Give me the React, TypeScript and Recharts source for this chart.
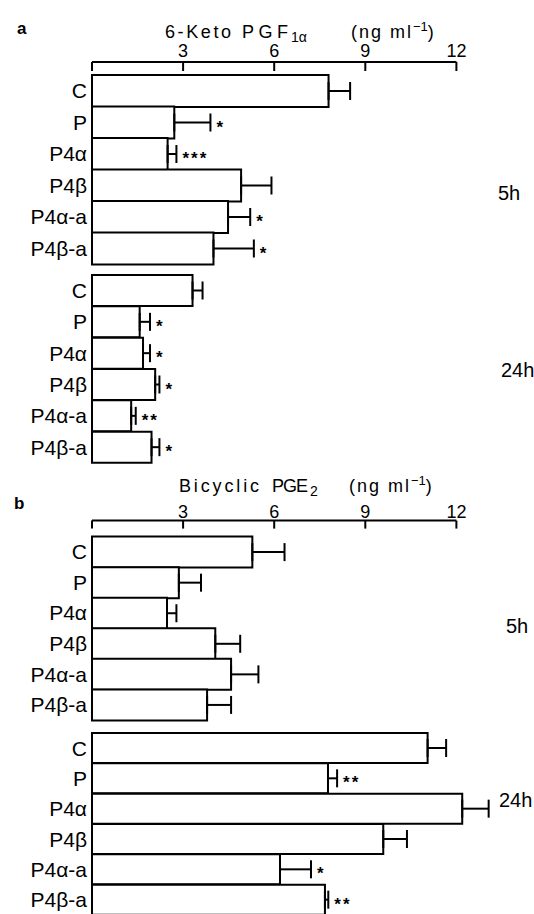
import React from 'react';
import { BarChart, Bar, XAxis, YAxis, ErrorBar } from 'recharts';

const FONT = '"Liberation Sans", Arial, sans-serif';

const categories = ['C', 'P', 'P4α', 'P4β', 'P4α-a', 'P4β-a'];
const axisTicks = [0, 3, 6, 9, 12];

// a: 6-Keto PGF1α (ng/ml)
const ketoMean5h = [7.79, 2.71, 2.49, 4.91, 4.48, 4.0];
const ketoErr5h = [0.71, 1.19, 0.29, 1.0, 0.73, 1.33];
const ketoStars5h = ['', '*', '***', '', '*', '*'];
const ketoMean24h = [3.31, 1.57, 1.68, 2.08, 1.29, 1.96];
const ketoErr24h = [0.33, 0.34, 0.23, 0.14, 0.15, 0.26];
const ketoStars24h = ['', '*', '*', '*', '**', '*'];

// b: Bicyclic PGE2 (ng/ml)
const pgeMean5h = [5.28, 2.86, 2.47, 4.06, 4.58, 3.79];
const pgeErr5h = [1.06, 0.73, 0.31, 0.82, 0.9, 0.79];
const pgeStars5h = ['', '', '', '', '', ''];
const pgeMean24h = [11.05, 7.77, 12.19, 9.59, 6.19, 7.67];
const pgeErr24h = [0.61, 0.3, 0.87, 0.78, 1.02, 0.11];
const pgeStars24h = ['', '**', '', '', '*', '**'];

type Row = { name: string; mean: number; err: number; range: [number, number]; stars: string };

const buildRows = (means: number[], errs: number[], stars: string[]): Row[] =>
  categories.map((name, i) => ({ name, mean: means[i], err: errs[i], range: [0, errs[i]], stars: stars[i] }));

const makeAxisTick = (gap: number, len: number) => (props: any) => {
  const { x, y, payload } = props;
  return (
    <g>
      <line x1={x} x2={x} y1={y} y2={y + len} stroke="#000" strokeWidth={2} />
      {payload.value !== 0 && (
        <text x={x} y={y - gap} textAnchor="middle" fontSize={18} fontFamily={FONT} fill="#000">
          {payload.value}
        </text>
      )}
    </g>
  );
};

const StarShape = (props: any) => {
  const { x, y, width, height, payload } = props;
  if (!payload || !payload.stars) return <g />;
  return (
    <text
      x={x + width + 6}
      y={y + height / 2 + 10}
      fontSize={17}
      fontWeight="bold"
      letterSpacing={2}
      fontFamily={FONT}
      fill="#000"
    >
      {payload.stars}
    </text>
  );
};

type GroupProps = {
  rows: Row[];
  top: number;
  height: number;
  margin: { top: number; right: number; bottom: number; left: number };
  domainMax: number;
  axis: boolean;
  axisHeight?: number;
  padTop?: number;
  tickGap?: number;
  tickLen?: number;
};

function Group({ rows, top, height, margin, domainMax, axis, axisHeight = 30, padTop = 0, tickGap = 5, tickLen = 9 }: GroupProps) {
  return (
    <div style={{ position: 'absolute', left: 0, top }}>
      <BarChart layout="vertical" width={534} height={height} data={rows} margin={margin} barCategoryGap={0}>
        <XAxis
          type="number"
          domain={[0, domainMax]}
          ticks={axisTicks}
          hide={!axis}
          orientation="top"
          height={axisHeight}
          axisLine={{ stroke: '#000', strokeWidth: 2 }}
          tickLine={false}
          tickSize={0}
          tickMargin={0}
          interval={0}
          tick={makeAxisTick(tickGap, tickLen)}
        />
        <YAxis
          type="category"
          dataKey="name"
          width={92}
          axisLine={false}
          tickLine={false}
          tickSize={0}
          tickMargin={5}
          interval={0}
          padding={{ top: padTop, bottom: 0 }}
          tick={{ fontSize: 21, fill: '#000', fontFamily: FONT }}
        />
        <Bar dataKey="mean" stackId="s" fill="#fff" stroke="#000" strokeWidth={2} isAnimationActive={false}>
          <ErrorBar dataKey="range" direction="x" width={9} stroke="#000" strokeWidth={2} isAnimationActive={false} />
        </Bar>
        <Bar dataKey="err" stackId="s" fill="none" isAnimationActive={false} shape={StarShape} />
      </BarChart>
    </div>
  );
}

export default function App() {
  const txt = { fontFamily: FONT, fill: '#000' } as const;
  return (
    <div style={{ position: 'absolute', left: 0, top: 0, width: 534, height: 914, overflow: 'hidden', background: '#fff' }}>
      <Group
        rows={buildRows(ketoMean5h, ketoErr5h, ketoStars5h)}
        top={0}
        height={266}
        margin={{ top: 0, right: 77.6, bottom: 2, left: 0 }}
        domainMax={12}
        axis
        axisHeight={62}
        padTop={13}
        tickGap={5}
        tickLen={9}
      />
      <Group
        rows={buildRows(ketoMean24h, ketoErr24h, ketoStars24h)}
        top={273}
        height={192}
        margin={{ top: 2, right: 16.8, bottom: 2, left: 0 }}
        domainMax={14}
        axis={false}
      />
      <Group
        rows={buildRows(pgeMean5h, pgeErr5h, pgeStars5h)}
        top={460}
        height={262}
        margin={{ top: 0, right: 77.6, bottom: 2, left: 0 }}
        domainMax={12}
        axis
        axisHeight={60.6}
        padTop={16}
        tickGap={3}
        tickLen={8}
      />
      <Group
        rows={buildRows(pgeMean24h, pgeErr24h, pgeStars24h)}
        top={731}
        height={186}
        margin={{ top: 2, right: 16.8, bottom: 2, left: 0 }}
        domainMax={14}
        axis={false}
      />
      <svg width={534} height={914} style={{ position: 'absolute', left: 0, top: 0, pointerEvents: 'none' }}>
        <text x={17} y={34} fontSize={17} fontWeight="bold" {...txt}>a</text>
        <text x={165} y={37.5} fontSize={18} textLength={66} {...txt}>6-Keto</text>
        <text x={242} y={37.5} fontSize={18} textLength={46} {...txt}>PGF</text>
        <text x={291} y={42} fontSize={14} {...txt}>1α</text>
        <text x={351} y={37.5} fontSize={18} letterSpacing={2} {...txt}>
          (ng ml<tspan dy={-7} fontSize={13} letterSpacing={0}>−1</tspan>
          <tspan dy={7}>)</tspan>
        </text>
        <text x={498} y={200} fontSize={20} {...txt}>5h</text>
        <text x={501} y={377} fontSize={20} {...txt}>24h</text>

        <text x={14} y={509} fontSize={17} fontWeight="bold" {...txt}>b</text>
        <text x={179} y={492} fontSize={18} textLength={80} {...txt}>Bicyclic</text>
        <text x={272} y={492} fontSize={18} textLength={36} {...txt}>PGE</text>
        <text x={310} y={496} fontSize={14} {...txt}>2</text>
        <text x={349} y={492} fontSize={18} letterSpacing={2} {...txt}>
          (ng ml<tspan dy={-7} fontSize={13} letterSpacing={0}>−1</tspan>
          <tspan dy={7}>)</tspan>
        </text>
        <text x={506} y={633} fontSize={20} {...txt}>5h</text>
        <text x={499} y={807} fontSize={20} {...txt}>24h</text>
      </svg>
    </div>
  );
}
